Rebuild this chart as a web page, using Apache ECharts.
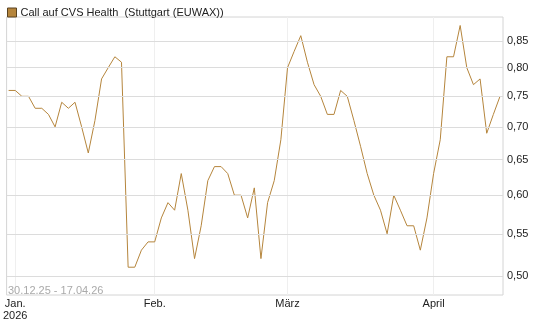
<!DOCTYPE html>
<html>
<head>
<meta charset="utf-8">
<script src="https://cdn.jsdelivr.net/npm/echarts@6/dist/echarts.min.js"></script>
<style>
  html, body { margin: 0; padding: 0; background: #fff; }
  #chart { width: 545px; height: 327px; }
</style>
</head>
<body>
<div id="chart"></div>
<script>
// trading days 30.12.25 - 17.04.26, one value per day
const dates = [
  '30.12.25',
  '02.01.26', '05.01.26', '06.01.26', '07.01.26', '08.01.26', '09.01.26',
  '12.01.26', '13.01.26', '14.01.26', '15.01.26', '16.01.26',
  '19.01.26', '20.01.26', '21.01.26', '22.01.26', '23.01.26',
  '26.01.26', '27.01.26', '28.01.26', '29.01.26', '30.01.26',
  '02.02.26', '03.02.26', '04.02.26', '05.02.26', '06.02.26',
  '09.02.26', '10.02.26', '11.02.26', '12.02.26', '13.02.26',
  '16.02.26', '17.02.26', '18.02.26', '19.02.26', '20.02.26',
  '23.02.26', '24.02.26', '25.02.26', '26.02.26', '27.02.26',
  '02.03.26', '03.03.26', '04.03.26', '05.03.26', '06.03.26',
  '09.03.26', '10.03.26', '11.03.26', '12.03.26', '13.03.26',
  '16.03.26', '17.03.26', '18.03.26', '19.03.26', '20.03.26',
  '23.03.26', '24.03.26', '25.03.26', '26.03.26', '27.03.26',
  '30.03.26', '31.03.26',
  '01.04.26', '02.04.26', '07.04.26', '08.04.26', '09.04.26', '10.04.26',
  '13.04.26', '14.04.26', '15.04.26', '16.04.26', '17.04.26'
];
const prices = [
  0.76,
  0.76, 0.75, 0.75, 0.73, 0.73, 0.72,
  0.70, 0.74, 0.73, 0.74, 0.70,
  0.66, 0.71, 0.78, 0.80, 0.82,
  0.81, 0.51, 0.51, 0.53, 0.54,
  0.54, 0.57, 0.59, 0.58, 0.63,
  0.58, 0.52, 0.56, 0.62, 0.64,
  0.64, 0.63, 0.60, 0.60, 0.57,
  0.61, 0.52, 0.59, 0.62, 0.68,
  0.80, 0.83, 0.86, 0.81, 0.77,
  0.75, 0.72, 0.72, 0.76, 0.75,
  0.71, 0.67, 0.63, 0.60, 0.58,
  0.55, 0.60, 0.58, 0.56, 0.56,
  0.53, 0.57,
  0.63, 0.68, 0.82, 0.82, 0.88, 0.80,
  0.77, 0.78, 0.69, 0.72, 0.75
];
const yTicks = [0.50, 0.55, 0.60, 0.65, 0.70, 0.75, 0.80, 0.85];
const monthTickIdx = [1, 22, 42, 64];
const monthLabels = ['Jan.\n2026', 'Feb.', 'März', 'April'];

const lineColor = '#b5853c';
const chart = echarts.init(document.getElementById('chart'));

const option = {
  animation: false,
  textStyle: { fontFamily: 'Liberation Sans, Arial, sans-serif' },
  legend: {
    left: 2, top: 2,
    icon: 'rect', itemWidth: 9, itemHeight: 9, itemGap: 4,
    itemStyle: { borderColor: '#5a4320', borderWidth: 1 },
    textStyle: { fontSize: 11, color: '#222', padding: [0, 0, 0, -1] },
    data: ['Call auf CVS Health  (Stuttgart (EUWAX))']
  },
  title: {
    text: dates[0] + ' - ' + dates[dates.length - 1],
    left: 3, top: 280,
    textStyle: { fontSize: 11, fontWeight: 'normal', color: '#aaa' }
  },
  grid: {
    left: 3, right: 42, top: 17, bottom: 32,
    show: true, borderColor: '#d4d4d4', borderWidth: 1
  },
  xAxis: {
    type: 'value',
    min: -0.3, max: 74.45,
    axisLine: { show: false },
    axisTick: { show: false, customValues: monthTickIdx },
    splitLine: { show: true, lineStyle: { color: '#efefef', width: 1 } },
    axisLabel: {
      customValues: monthTickIdx,
      color: '#222', fontSize: 11, margin: 3, lineHeight: 12,
      formatter: v => monthLabels[monthTickIdx.indexOf(v)] || ''
    }
  },
  yAxis: {
    type: 'log',
    position: 'right',
    min: 0.479, max: 0.897,
    axisLine: { show: false },
    axisTick: { show: false },
    axisLabel: { show: false },
    splitLine: { show: false }
  },
  series: [
    {
      type: 'line',
      silent: true,
      z: 1,
      data: [],
      markLine: {
        silent: true,
        symbol: 'none',
        animation: false,
        lineStyle: { color: '#dcdcdc', type: 'solid', width: 1 },
        label: {
          position: 'end', distance: 4,
          color: '#222', fontSize: 11,
          formatter: p => p.value.toFixed(2).replace('.', ',')
        },
        data: yTicks.map(v => ({ yAxis: v }))
      }
    },
    {
      name: 'Call auf CVS Health  (Stuttgart (EUWAX))',
      type: 'line',
      z: 3,
      showSymbol: false,
      symbol: 'none',
      lineStyle: { color: lineColor, width: 1 },
      itemStyle: { color: lineColor },
      data: prices.map((p, i) => [i, p])
    }
  ]
};

chart.setOption(option);
</script>
</body>
</html>
